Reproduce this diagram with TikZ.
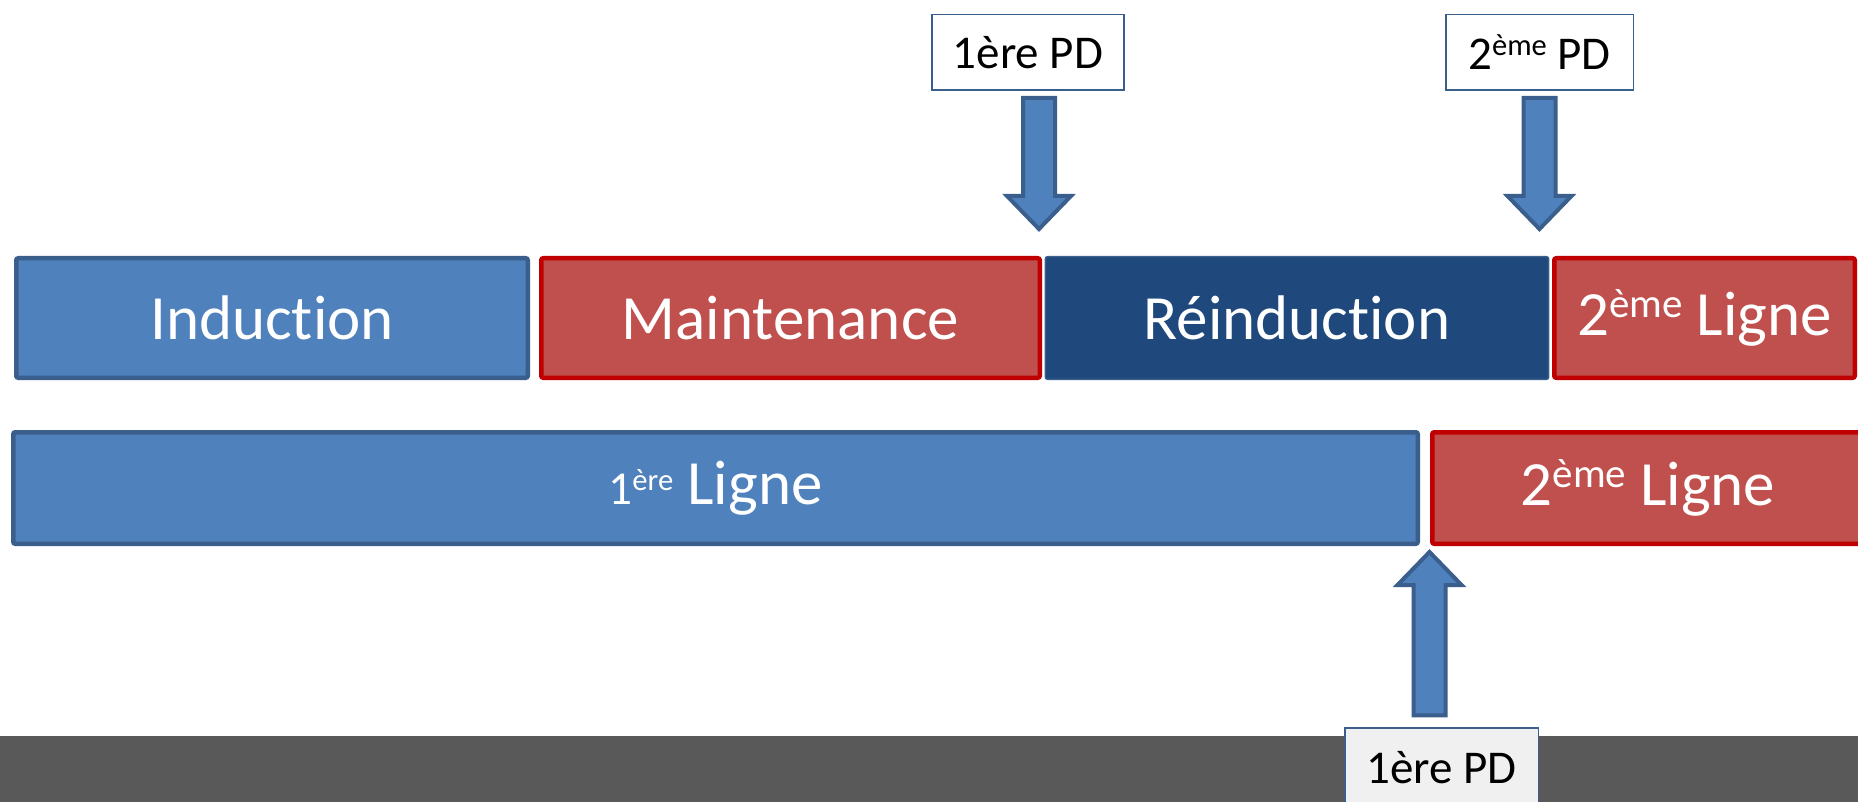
\documentclass[tikz,border=0pt]{standalone}
\usepackage{fontspec}
\setmainfont{Carlito}[Ligatures=NoCommon]
\usetikzlibrary{calc}
\definecolor{barblue}{HTML}{4F81BD}
\definecolor{barblueline}{HTML}{3A5F8C}
\definecolor{barred}{HTML}{C0504D}
\definecolor{barredline}{HTML}{C00000}
\definecolor{bardark}{HTML}{1F497D}
\definecolor{bandgray}{HTML}{595959}
\definecolor{pdgray}{HTML}{F0F0F0}
\newcommand{\expo}[1]{\raisebox{0.62ex}{\scalebox{0.65}{#1}}}
\newcommand{\blockarrow}[2]{%
  \coordinate (hb) at ($(#2)!\dhl!(#1)$);
  \draw[pdarrow] ($(#1)!\dsw!90:(#2)$) -- ($(hb)!\dsw!90:(#2)$) -- ($(hb)!\dhw!90:(#2)$) -- (#2)
    -- ($(hb)!\dhw!-90:(#2)$) -- ($(hb)!\dsw!-90:(#2)$) -- ($(#1)!\dsw!-90:(#2)$) -- cycle;}
\begin{document}
\begin{tikzpicture}[x=0.5pt,y=-0.5pt,bar/.style={draw,line width=2.25pt,rounded corners=1pt,inner sep=0pt,text=white,font=\fontsize{31.5}{36}\selectfont},barB/.style={bar,fill=barblue,draw=barblueline},barR/.style={bar,fill=barred,draw=barredline},barD/.style={bar,fill=bardark,draw=barblueline,line width=0.75pt},pd/.style={draw=barblueline,line width=0.75pt,fill=white,inner sep=0pt,minimum width=96pt,minimum height=37.75pt,font=\fontsize{23.5}{28}\selectfont},pdarrow/.style={fill=barblue,draw=barblueline,line width=2pt,line join=miter}]
\def\toph{59.75pt};
\def\both{55.75pt};
\def\dsw{8pt};
\def\dhw{16pt};
\def\dhl{16.5pt};

\useasboundingbox (0,0) rectangle (1858,802);
\fill[bandgray] (0,736) rectangle (1858,802);

\node[barB,minimum width=255.75pt,minimum height=\toph] (induct) at (272,318) {Induction};
\node[barR,minimum width=249.25pt,minimum height=\toph] (maint) at (790.5,318) {Maintenance};
\node[barD,minimum width=251.6pt,minimum height=61.25pt] (reind) at (1297,318) {Réinduction};
\node[barR,minimum width=150.25pt,minimum height=\toph] (ligneA) at (1704.5,318) {2\expo{ème} Ligne};

\node[barB,minimum width=702.25pt,minimum height=\both] (ligneI) at (715.5,488) {\scalebox{0.75}{1\expo{ère}} Ligne};
\node[barR,minimum width=215.75pt,minimum height=\both] (ligneB) at (1648,488) {2\expo{ème} Ligne};

\node[pd] (pdI) at (1028,52.5) {1ère PD};
\node[pd,minimum width=93.75pt] (pdII) at (1539.5,52.5) {2\expo{ème} PD};
\node[pd,fill=pdgray,minimum width=96.75pt,minimum height=40pt] (pdIb) at (1441.5,768) {1ère PD};

\coordinate (aI) at ($(pdI.south)+(11,7)$);
\coordinate (aIe) at (aI |- 0,229);
\coordinate (aII) at ($(pdII.south)+(0,7)$);
\coordinate (aIIe) at (aII |- 0,229);
\coordinate (aIb) at ($(pdIb.north)+(-12,-12)$);
\coordinate (aIbe) at ($(aIb |- ligneI.south)+(0,6)$);
\blockarrow{aI}{aIe}
\blockarrow{aII}{aIIe}
\blockarrow{aIb}{aIbe}
\end{tikzpicture}
\end{document}
